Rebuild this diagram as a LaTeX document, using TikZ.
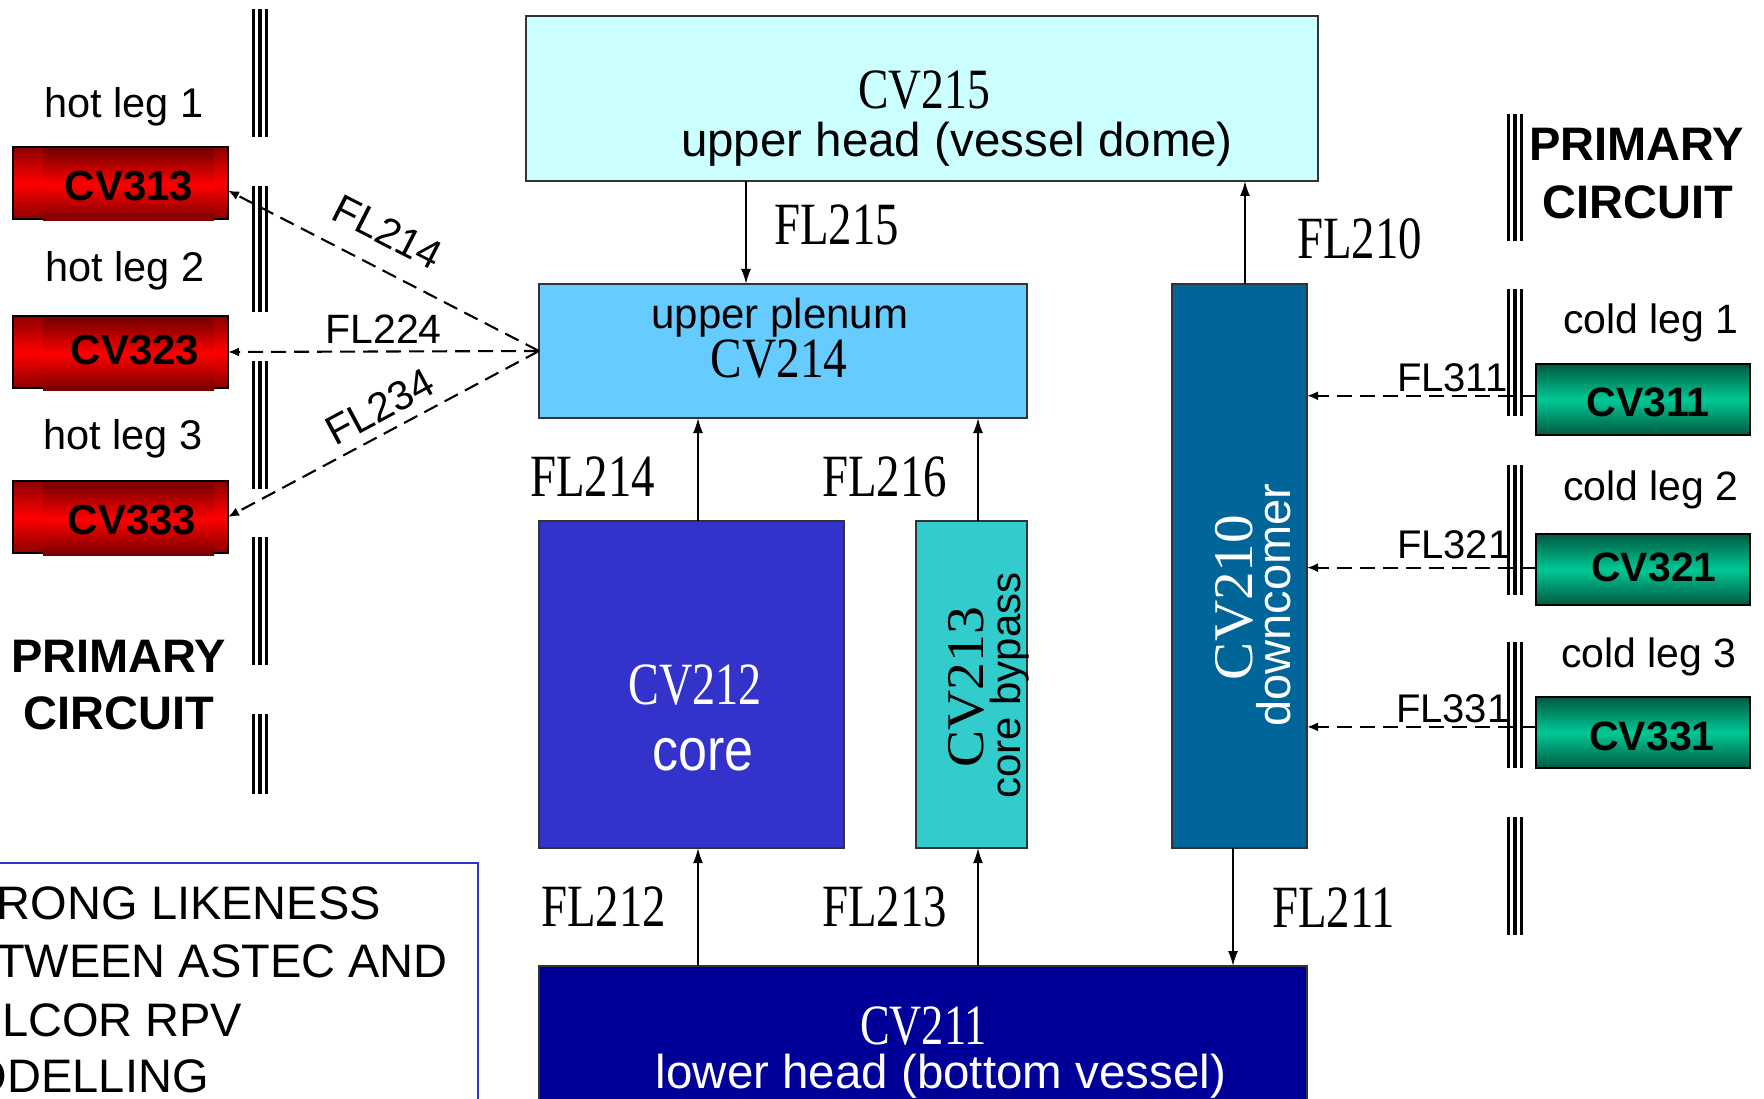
\documentclass[tikz,border=0pt]{standalone}
\usepackage{fontspec}
\setmainfont{Liberation Sans}
\newfontfamily\tms{Liberation Serif}
\usetikzlibrary{arrows.meta,calc}
\newcommand\fsz[1]{\fontsize{#1}{#1}\selectfont}
\newcommand\cond[2]{\scalebox{#1}[1]{#2}}
\definecolor{cvtop}{HTML}{CCFFFF}
\definecolor{plen}{HTML}{66CCFF}
\definecolor{corec}{HTML}{3333CC}
\definecolor{bypc}{HTML}{33CCCC}
\definecolor{dcc}{HTML}{006699}
\definecolor{lhc}{HTML}{000099}
\definecolor{reddark}{HTML}{8C0000}
\definecolor{reddeep}{HTML}{760000}
\definecolor{grdark}{HTML}{005A41}
\definecolor{grmid}{HTML}{00C896}
\definecolor{notec}{HTML}{3333CC}
\definecolor{edgec}{HTML}{333333}
\begin{document}
\begin{tikzpicture}[x=1pt,y=-1pt,
  vbox/.style={draw=edgec, line width=2pt, inner sep=0pt, outer sep=0pt, anchor=north west},
  redbox/.style={draw=black, line width=2pt, inner sep=0pt, outer sep=0pt, anchor=north west,
     minimum width=215pt, minimum height=72pt, top color=reddark, bottom color=reddark, middle color=red},
  grbox/.style={draw=black, line width=2pt, inner sep=0pt, outer sep=0pt, anchor=north west,
     minimum width=214pt, minimum height=71pt, top color=grdark, bottom color=grdark, middle color=grmid},
  txt/.style={inner sep=0pt, outer sep=0pt, anchor=base},
  sarr/.style={draw=black, line width=1.8pt, -{Latex[length=15pt,width=10pt]}},
  darr/.style={draw=black, line width=2.1pt, dash pattern=on 15pt off 8pt, -{Latex[length=11pt,width=9pt]}},
  bar/.style={draw=black, line width=3.2pt}
]
\useasboundingbox (0,0) rectangle (1764,1099);
\clip (0,0) rectangle (1764,1099);

% vessel volumes
\node[vbox, fill=cvtop, minimum width=792pt, minimum height=165pt] (cv215) at (526,16) {};
\node[vbox, fill=plen, minimum width=488pt, minimum height=134pt] (cv214) at (539,284) {};
\node[vbox, fill=corec, minimum width=305pt, minimum height=327pt] (cv212) at (539,521) {};
\node[vbox, fill=bypc, minimum width=111pt, minimum height=327pt] (cv213) at (916,521) {};
\node[vbox, fill=dcc, minimum width=135pt, minimum height=564pt] (cv210) at (1172,284) {};
\node[vbox, fill=lhc, minimum width=768pt, minimum height=160pt] (cv211) at (539,966) {};

\node[txt] (t215) at (924,109) {\tms\fsz{57}\cond{0.8}{CV215}};
\node[txt] (t215b) at (957,157) {\fsz{47.5}upper head (vessel dome)};
\node[txt] (t214a) at (780,328) {\fsz{42}upper plenum};
\node[txt] (t214) at (779,377) {\tms\fsz{57}\cond{0.83}{CV214}};
\node[txt, text=white] (t212) at (695,704) {\tms\fsz{60}\cond{0.77}{CV212}};
\node[txt, text=white] (t212b) at (703,770) {\fsz{52}\scalebox{1}[1.15]{core}};
\node[txt, rotate=90] (t213) at (983,687.5) {\tms\fsz{53}\cond{1.05}{CV213}};
\node[txt, rotate=90] (t213b) at (1020,685.5) {\fsz{42}core bypass};
\node[txt, rotate=90, text=white] (t210) at (1252,597.5) {\tms\fsz{56}\cond{1.02}{CV210}};
\node[txt, rotate=90, text=white] (t210b) at (1290,605) {\fsz{47}downcomer};
\node[txt, text=white] (t211) at (923.5,1044) {\tms\fsz{57}\cond{0.78}{CV211}};
\node[txt, text=white] (t211b) at (941,1088) {\fsz{47.5}lower head (bottom vessel)};

% internal flow paths
\draw[sarr] ($(cv215.south west)+(220,0)$) -- ($(cv214.north west)+(207,0)$);
\draw[sarr] ($(cv210.north west)+(73,0)$) -- ($(cv215.south west)+(719,0)$);
\draw[sarr] ($(cv212.north west)+(159,0)$) -- ($(cv214.south west)+(159,0)$);
\draw[sarr] ($(cv213.north west)+(62,0)$) -- ($(cv214.south west)+(439,0)$);
\draw[sarr] ($(cv211.north west)+(159,0)$) -- ($(cv212.south west)+(159,0)$);
\draw[sarr] ($(cv211.north west)+(439,0)$) -- ($(cv213.south west)+(62,0)$);
\draw[sarr] ($(cv210.south west)+(61,0)$) -- ($(cv211.north west)+(694,0)$);

\node[txt, anchor=base west] (fl215) at (774,245) {\tms\fsz{60}\cond{0.78}{FL215}};
\node[txt, anchor=base west] (fl210) at (1297,259) {\tms\fsz{60}\cond{0.78}{FL210}};
\node[txt, anchor=base west] (fl214) at (530,496) {\tms\fsz{60}\cond{0.78}{FL214}};
\node[txt, anchor=base west] (fl216) at (822,496) {\tms\fsz{60}\cond{0.78}{FL216}};
\node[txt, anchor=base west] (fl212) at (541,926) {\tms\fsz{60}\cond{0.78}{FL212}};
\node[txt, anchor=base west] (fl213) at (822,926) {\tms\fsz{60}\cond{0.78}{FL213}};
\node[txt, anchor=base west] (fl211) at (1272,927) {\tms\fsz{60}\cond{0.78}{FL211}};

% hot legs
\node[redbox] (r313) at (13,147) {};
\fill[top color=reddeep, bottom color=reddeep, middle color=red] (43,149) rectangle (214,221);
\node[redbox] (r323) at (13,316) {};
\fill[top color=reddeep, bottom color=reddeep, middle color=red] (43,318) rectangle (214,390);
\node[redbox] (r333) at (13,481) {};
\fill[top color=reddeep, bottom color=reddeep, middle color=red] (43,483) rectangle (214,555);
\node[txt] (c313) at (129,201) {\fsz{42}\bfseries CV313};
\node[txt] (c323) at (135,364) {\fsz{42}\bfseries CV323};
\node[txt] (c333) at (132,534) {\fsz{42}\bfseries CV333};
\node[txt] (h1) at (124,118) {\fsz{41.5}hot leg 1};
\node[txt] (h2) at (125,282) {\fsz{41.5}hot leg 2};
\node[txt] (h3) at (123,449) {\fsz{41.5}hot leg 3};
\node[txt] (pl1) at (118.5,672) {\fsz{47}\bfseries PRIMARY};
\node[txt] (pl2) at (118.5,729) {\fsz{47}\bfseries CIRCUIT};

% cold legs
\node[grbox] (g311) at (1536,364) {};
\node[grbox] (g321) at (1536,534) {};
\node[grbox] (g331) at (1536,697) {};
\node[txt] (c311) at (1648,416) {\fsz{41}\bfseries CV311};
\node[txt] (c321) at (1654,581) {\fsz{41}\bfseries CV321};
\node[txt] (c331) at (1652,750) {\fsz{41}\bfseries CV331};
\node[txt] (k1) at (1651,334) {\fsz{41}cold leg 1};
\node[txt] (k2) at (1651,500) {\fsz{41}cold leg 2};
\node[txt] (k3) at (1649,667) {\fsz{41}cold leg 3};
\node[txt] (pr1) at (1636.5,161) {\fsz{47}\bfseries PRIMARY};
\node[txt] (pr2) at (1637.5,219) {\fsz{47}\bfseries CIRCUIT};

% boundary bars
\foreach \a/\b in {9/137,186/312,361/489,537/665,714/794}
  \foreach \x in {253.6,260,266.4} \draw[bar] (\x,\a) -- (\x,\b);
\foreach \a/\b in {114/241,289/416,465/595,642/768,817/935}
  \foreach \x in {1508.6,1515,1521.4} \draw[bar] (\x,\a) -- (\x,\b);

% junctions to loops
\draw[darr] (cv214.west) -- (r313.-4);
\draw[darr] (cv214.west) -- (r323.east);
\draw[darr] (cv214.west) -- (r333.east);
\draw[darr] (g311.178) -- (g311.178 -| cv210.east);
\draw[darr] (g321.179) -- (g321.179 -| cv210.east);
\draw[darr] (g331.177) -- (g331.177 -| cv210.east);

\node[txt] (fl224) at (383.5,343) {\fsz{41}FL224};
\node[inner sep=0pt, rotate=-27.1] (fl214d) at (388,232) {\fsz{41}FL214};
\node[inner sep=0pt, rotate=28.2] (fl234) at (380,407) {\fsz{41}FL234};
\node[txt, anchor=base west] (fl311) at (1397,391) {\fsz{40}FL311};
\node[txt, anchor=base west] (fl321) at (1397,558) {\fsz{40}FL321};
\node[txt, anchor=base west] (fl331) at (1396,722) {\fsz{40}FL331};

% note box
\node[draw=notec, line width=2.5pt, inner sep=0pt, outer sep=0pt, anchor=north west,
      minimum width=490pt, minimum height=260pt] (note) at (-12,863) {};
\node[txt, anchor=base west] (n1) at (-3,919) {\fsz{47}RONG LIKENESS};
\node[txt, anchor=base west] (n2) at (-4,977) {\fsz{47}TWEEN ASTEC AND};
\node[txt, anchor=base west] (n3) at (2,1036) {\fsz{47}LCOR RPV};
\node[txt, anchor=base west] (n4) at (-29,1092) {\fsz{47}ODELLING};
\end{tikzpicture}
\end{document}
